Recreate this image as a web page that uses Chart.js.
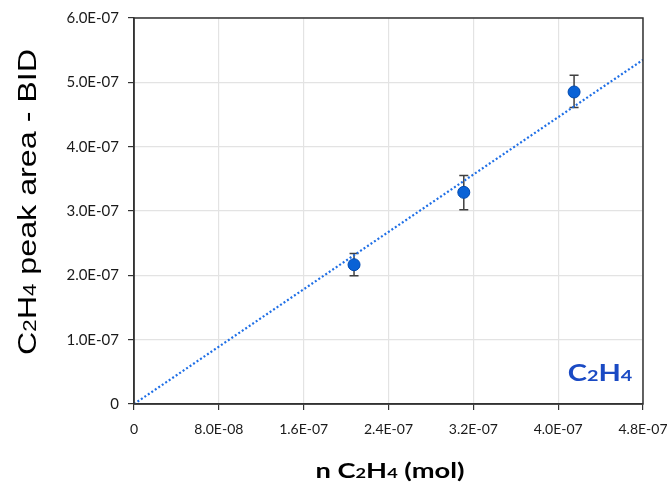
<!DOCTYPE html>
<html>
<head>
<meta charset="utf-8">
<script src="https://cdn.jsdelivr.net/npm/chart.js@4.4.0/dist/chart.umd.min.js"></script>
<style>
  html, body { margin: 0; padding: 0; background: #fff; }
  #wrap { width: 667px; height: 483px; }
</style>
</head>
<body>
<div id="wrap"><canvas id="calib" width="667" height="483"></canvas></div>
<script>
// measured points (n C2H4 in mol, peak area)
var molValues = [2.075e-7, 3.11e-7, 4.15e-7];
var areaValues = [2.165e-7, 3.29e-7, 4.85e-7];
var areaErrLow = [1.995e-7, 3.02e-7, 4.61e-7];
var areaErrHigh = [2.34e-7, 3.55e-7, 5.11e-7];

// linear fit through origin
var fitX = [0, 4.8e-7];
var fitY = [0, 5.35e-7];

var xTickValues = [0, 8e-8, 1.6e-7, 2.4e-7, 3.2e-7, 4.0e-7, 4.8e-7];
var xTickLabels = ["0", "8.0E-08", "1.6E-07", "2.4E-07", "3.2E-07", "4.0E-07", "4.8E-07"];
var yTickValues = [0, 1e-7, 2e-7, 3e-7, 4e-7, 5e-7, 6e-7];
var yTickLabels = ["0", "1.0E-07", "2.0E-07", "3.0E-07", "4.0E-07", "5.0E-07", "6.0E-07"];

var tickFont = "Lato";

// draws text like C2H4 with small subscript digits, centred on x,
// stretch widens the glyphs along the text direction
function drawChem(ctx, parts, x, y, size, weight, family, stretch) {
  var fontFor = function (p) {
    return weight + " " + (p.sub ? Math.round(size * 0.68) : size) + "px " + family;
  };
  var widths = parts.map(function (p) {
    ctx.font = fontFor(p);
    return ctx.measureText(p.t).width;
  });
  var total = widths.reduce(function (a, b) { return a + b; }, 0);
  ctx.save();
  ctx.translate(x, y);
  ctx.scale(stretch, 1);
  ctx.textAlign = "left";
  ctx.textBaseline = "alphabetic";
  var cx = -total / 2;
  parts.forEach(function (p, i) {
    ctx.font = fontFor(p);
    ctx.fillText(p.t, cx, 0);
    cx += widths[i];
  });
  ctx.restore();
}

var extras = {
  id: "extras",
  beforeDatasetsDraw: function (chart) {
    var ctx = chart.ctx;
    var xs = chart.scales.x, ys = chart.scales.y;
    ctx.save();
    ctx.strokeStyle = "#404040";
    ctx.lineWidth = 1.5;
    for (var i = 0; i < molValues.length; i++) {
      var px = xs.getPixelForValue(molValues[i]);
      var top = ys.getPixelForValue(areaErrHigh[i]);
      var bot = ys.getPixelForValue(areaErrLow[i]);
      ctx.beginPath();
      ctx.moveTo(px, top); ctx.lineTo(px, bot);
      ctx.moveTo(px - 4.5, top); ctx.lineTo(px + 4.5, top);
      ctx.moveTo(px - 4.5, bot); ctx.lineTo(px + 4.5, bot);
      ctx.stroke();
    }
    ctx.restore();
  },
  afterDraw: function (chart) {
    var ctx = chart.ctx;
    var a = chart.chartArea;
    ctx.save();
    // frame
    ctx.strokeStyle = "#333";
    ctx.lineWidth = 1.5;
    ctx.strokeRect(a.left, a.top, a.right - a.left, a.bottom - a.top);

    // y title
    ctx.fillStyle = "#000";
    ctx.save();
    ctx.translate(36, 202);
    ctx.rotate(-Math.PI / 2);
    drawChem(ctx, [{t: "C"}, {t: "2", sub: true}, {t: "H"}, {t: "4", sub: true}, {t: " peak area - BID"}],
      0, 0, 26, "normal", "'Liberation Sans', Arial", 1.24);
    ctx.restore();

    // x title
    drawChem(ctx, [{t: "n C"}, {t: "2", sub: true}, {t: "H"}, {t: "4", sub: true}, {t: " (mol)"}],
      390, 478, 21, "bold", tickFont, 1.3);

    // species label
    ctx.fillStyle = "#1a4ac4";
    drawChem(ctx, [{t: "C"}, {t: "2", sub: true}, {t: "H"}, {t: "4", sub: true}],
      600, 381, 22, "bold", tickFont, 1.32);
    ctx.restore();
  }
};

var ctx = document.getElementById("calib").getContext("2d");
var chart = new Chart(ctx, {
  type: "scatter",
  data: {
    datasets: [
      {
        label: "C2H4",
        data: molValues.map(function (v, i) { return { x: v, y: areaValues[i] }; }),
        backgroundColor: "#0a62d6",
        borderColor: "#0049b0",
        borderWidth: 1,
        pointRadius: 6,
        order: 1,
      },
      {
        label: "fit",
        data: fitX.map(function (v, i) { return { x: v, y: fitY[i] }; }),
        showLine: true,
        borderColor: "#1f6fe6",
        borderWidth: 2.2,
        borderDash: [2, 2.2],
        pointRadius: 0,
        fill: false,
        order: 2,
      },
    ],
  },
  options: {
    responsive: false,
    animation: false,
    layout: { padding: { top: 18, right: 24, left: 0, bottom: 0 } },
    plugins: {
      legend: { display: false },
      tooltip: { enabled: false },
    },
    scales: {
      x: {
        type: "linear",
        min: 0,
        max: 4.8e-7,
        afterBuildTicks: function (axis) {
          axis.ticks = xTickValues.map(function (v) { return { value: v }; });
        },
        afterFit: function (axis) {
          axis.height = 79;
          axis.paddingLeft = 0;
          axis.paddingRight = 0;
        },
        ticks: {
          autoSkip: false,
          maxRotation: 0,
          padding: 11,
          color: "#1a1a1a",
          font: { family: tickFont, size: 14 },
          callback: function (v, i) { return xTickLabels[i]; },
        },
        grid: { color: "#e3e3e3", lineWidth: 1.2, tickColor: "#333", tickLength: 6 },
        border: { color: "#333", width: 1.5 },
      },
      y: {
        type: "linear",
        min: 0,
        max: 6e-7,
        afterBuildTicks: function (axis) {
          axis.ticks = yTickValues.map(function (v) { return { value: v }; });
        },
        afterFit: function (axis) {
          axis.width = 134;
          axis.paddingTop = 0;
          axis.paddingBottom = 0;
        },
        ticks: {
          autoSkip: false,
          padding: 9,
          color: "#1a1a1a",
          font: { family: tickFont, size: 15 },
          callback: function (v, i) { return yTickLabels[i]; },
        },
        grid: { color: "#e3e3e3", lineWidth: 1.2, tickColor: "#333", tickLength: 6 },
        border: { color: "#333", width: 1.5 },
      },
    },
  },
  plugins: [extras],
});
</script>
</body>
</html>
